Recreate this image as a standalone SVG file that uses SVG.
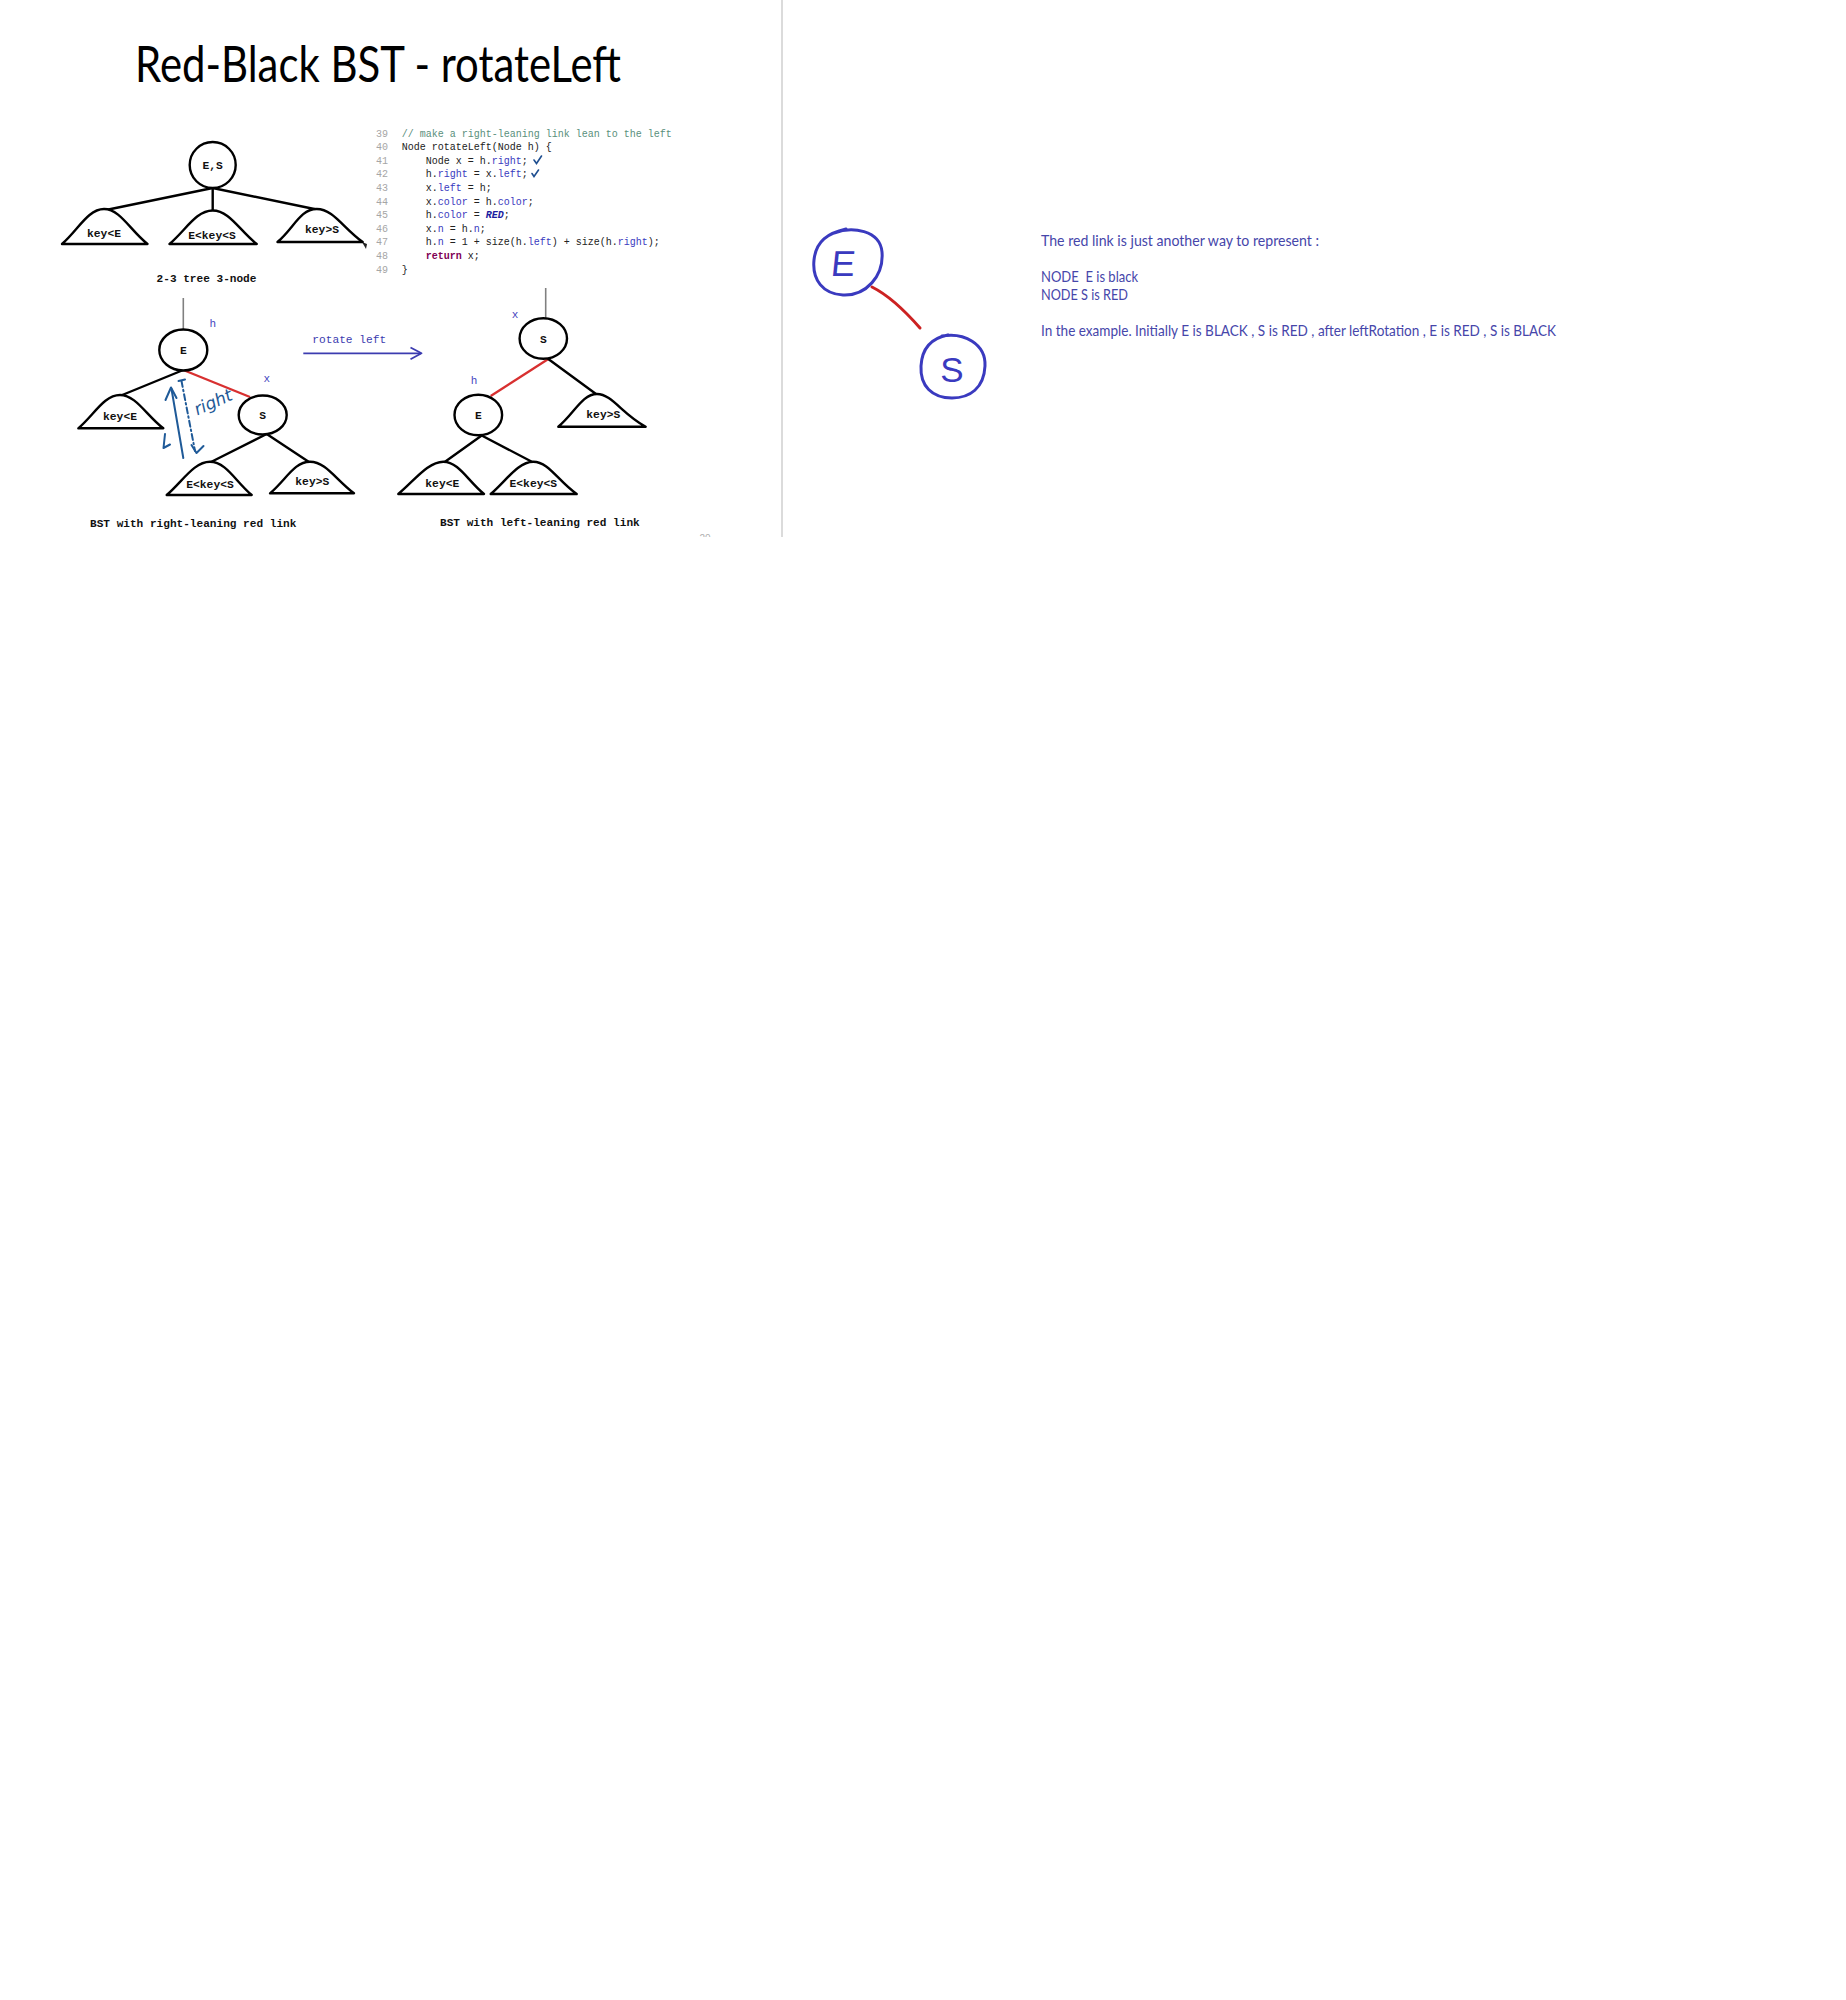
<svg xmlns="http://www.w3.org/2000/svg" width="1846" height="2000" viewBox="0 0 1846 2000">
<style>
.tl{fill:none;stroke:#000;stroke-width:2.4;stroke-linecap:round}
.red{fill:none;stroke:#d83030;stroke-width:2.4}
.gray{fill:none;stroke:#808080;stroke-width:1.6}
.nd{fill:#fff;stroke:#000;stroke-width:2.4}
.sub{fill:#fff;stroke:#000;stroke-width:2.4;stroke-linejoin:round}
.lb{font-family:"Liberation Mono",monospace;font-weight:bold;font-size:11.3px;fill:#111;text-anchor:middle}
.cap{font-family:"Liberation Mono",monospace;font-weight:bold;font-size:11.1px;fill:#111}
.var{font-family:"Liberation Mono",monospace;font-size:11px;fill:#4646c0;text-anchor:middle}
.code{font-family:"Liberation Mono",monospace;font-size:10px;fill:#222}
.ln{font-family:"Liberation Mono",monospace;font-size:10px;fill:#a6a6a6;text-anchor:end}
.fld{fill:#3a3ac0}
.cm{fill:#5a8f7c}
.kw{fill:#7f0055;font-weight:bold}
.cst{fill:#1c1ca0;font-weight:bold;font-style:italic}
.note{font-family:Lato,"Liberation Sans",sans-serif;font-size:15px;fill:#4646aa}
.ink{fill:none;stroke:#1f5a98;stroke-width:2;stroke-linecap:round;stroke-linejoin:round}
.pen{fill:none;stroke:#3a3abf;stroke-width:3;stroke-linecap:round;stroke-linejoin:round}
</style>
<defs>
<clipPath id="slideclip"><rect x="0" y="0" width="782" height="537"/></clipPath>
</defs>
<rect x="0" y="0" width="1846" height="2000" fill="#fff"/>
<line x1="782" y1="0" x2="782" y2="537" stroke="#cfcfcf" stroke-width="1.5"/>
<text x="378" y="82" font-family="Lato,'Liberation Sans',sans-serif" font-size="50" fill="#000" text-anchor="middle" textLength="486" lengthAdjust="spacingAndGlyphs">Red-Black BST - rotateLeft</text>

<!-- code listing -->
<g id="code">
<text class="ln" x="388" y="136.5">39</text>
<text class="ln" x="388" y="150.1">40</text>
<text class="ln" x="388" y="163.7">41</text>
<text class="ln" x="388" y="177.3">42</text>
<text class="ln" x="388" y="190.9">43</text>
<text class="ln" x="388" y="204.5">44</text>
<text class="ln" x="388" y="218.1">45</text>
<text class="ln" x="388" y="231.7">46</text>
<text class="ln" x="388" y="245.3">47</text>
<text class="ln" x="388" y="258.9">48</text>
<text class="ln" x="388" y="272.5">49</text>
<text class="code cm" x="401.7" y="136.5">// make a right-leaning link lean to the left</text>
<text class="code" x="401.7" y="150.1">Node rotateLeft(Node h) {</text>
<text class="code" x="425.7" y="163.7">Node x = h.<tspan class="fld">right</tspan>;</text>
<text class="code" x="425.7" y="177.3">h.<tspan class="fld">right</tspan> = x.<tspan class="fld">left</tspan>;</text>
<text class="code" x="425.7" y="190.9">x.<tspan class="fld">left</tspan> = h;</text>
<text class="code" x="425.7" y="204.5">x.<tspan class="fld">color</tspan> = h.<tspan class="fld">color</tspan>;</text>
<text class="code" x="425.7" y="218.1">h.<tspan class="fld">color</tspan> = <tspan class="cst">RED</tspan>;</text>
<text class="code" x="425.7" y="231.7">x.<tspan class="fld">n</tspan> = h.<tspan class="fld">n</tspan>;</text>
<text class="code" x="425.7" y="245.3">h.<tspan class="fld">n</tspan> = 1 + size(h.<tspan class="fld">left</tspan>) + size(h.<tspan class="fld">right</tspan>);</text>
<text class="code" x="425.7" y="258.9"><tspan class="kw">return</tspan> x;</text>
<text class="code" x="401.7" y="272.5">}</text>
<path d="M534,160 L536.5,163.5 L541.5,156" fill="none" stroke="#1f4f90" stroke-width="1.6" stroke-linecap="round"/>
<path d="M532,173.5 L534,176.5 L538.5,170" fill="none" stroke="#1f4f90" stroke-width="1.6" stroke-linecap="round"/>
<path d="M362,242 L366,249 L367,244 Z" fill="#222"/>
</g>

<g id="connectors">
<line class="tl" x1="212.7" y1="188" x2="106" y2="210"/>
<line class="tl" x1="212.7" y1="188" x2="212.7" y2="211"/>
<line class="tl" x1="212.7" y1="188" x2="316.7" y2="209.5"/>
<line class="gray" x1="183.3" y1="298" x2="183.3" y2="330"/>
<line class="tl" x1="183.3" y1="370" x2="121" y2="395.5"/>
<line class="red" x1="183.3" y1="370" x2="250" y2="397"/>
<line class="tl" x1="266.7" y1="434" x2="211" y2="462"/>
<line class="tl" x1="266.7" y1="434" x2="309" y2="462"/>
<line class="gray" x1="545.7" y1="288" x2="545.7" y2="319"/>
<line class="red" x1="548.3" y1="359" x2="490.7" y2="396"/>
<line class="tl" x1="548.3" y1="359" x2="596.7" y2="394.5"/>
<line class="tl" x1="481.7" y1="435.5" x2="444" y2="462.5"/>
<line class="tl" x1="481.7" y1="435.5" x2="533.3" y2="462.5"/>
<g id="rotate-arrow">
<line x1="303.3" y1="353.3" x2="421" y2="353.3" stroke="#3c3cb0" stroke-width="1.8"/>
<path d="M410.5,347.5 L421.5,353.3 L410.5,359.3" fill="none" stroke="#3c3cb0" stroke-width="1.8" stroke-linejoin="round"/>
</g>
</g>
<text x="312.3" y="342.7" font-family="'Liberation Mono',monospace" font-size="11.2" fill="#3c3cb0">rotate left</text>

<!-- 2-3 tree 3-node -->
<g id="node-ES">
<circle class="nd" cx="212.7" cy="165" r="23"/>
<text class="lb" x="212.7" y="169">E,S</text>
</g>
<g id="tri-keyltE-1">
<path class="sub" d="M62,244 C78,230 88,209 104,209 C120,209 130,230 147.5,244 Z"/>
<text class="lb" x="104" y="236.5">key&lt;E</text>
</g>
<g id="tri-mid-1">
<path class="sub" d="M169.5,244 C186,230 196,210.5 212.7,210.5 C229.4,210.5 239,230 256.7,244 Z"/>
<text class="lb" x="212" y="238.5">E&lt;key&lt;S</text>
</g>
<g id="tri-keygtS-1">
<path class="sub" d="M277.5,242 C294,228 300,209 316.7,209 C333.4,209 343,228 362.7,242 Z"/>
<text class="lb" x="322" y="233">key&gt;S</text>
</g>
<text class="cap" x="206.5" y="281.5" text-anchor="middle">2-3 tree 3-node</text>

<!-- BST with right-leaning red link -->
<g id="node-E-1">
<ellipse class="nd" cx="183.3" cy="350" rx="24" ry="20.5"/>
<text class="lb" x="183.3" y="354">E</text>
</g>
<text class="var" x="212.7" y="327">h</text>
<text class="var" x="266.7" y="382">x</text>
<g id="node-S-1">
<ellipse class="nd" cx="262.7" cy="415" rx="24" ry="19.5"/>
<text class="lb" x="262.7" y="419">S</text>
</g>
<g id="tri-keyltE-2">
<path class="sub" d="M78.3,428.3 C94,415 104,395 120,395 C136,395 146,415 163.3,428.3 Z"/>
<text class="lb" x="120" y="420">key&lt;E</text>
</g>
<g id="tri-mid-2">
<path class="sub" d="M166.7,495 C182,482 194,461.7 210,461.7 C226,461.7 236,482 251.7,495 Z"/>
<text class="lb" x="210" y="487.5">E&lt;key&lt;S</text>
</g>
<g id="tri-keygtS-2">
<path class="sub" d="M270,493.3 C286,480 294,461.7 310,461.7 C326,461.7 336,480 354,493.3 Z"/>
<text class="lb" x="312.3" y="484.5">key&gt;S</text>
</g>
<text class="cap" x="90" y="526.5">BST with right-leaning red link</text>

<!-- hand annotations -->
<g id="annotation">
<path class="ink" d="M183.3,458 L171.5,389"/>
<path class="ink" d="M165.5,400 L171,387.5 L176.5,398"/>
<path class="ink" d="M165,434 L163.5,448 L170,444.5"/>
<path class="ink" d="M181.5,381 L195,451" stroke-dasharray="6,3,1.5,3"/>
<path class="ink" d="M178.5,381 L185,379.5"/>
<path class="ink" d="M191.5,445 L196.5,453 L203.5,446"/>
<text x="213" y="408" font-family="'DejaVu Sans',sans-serif" font-style="italic" font-size="17" fill="#1f5a98" text-anchor="middle" transform="rotate(-24 213 402)">right</text>
</g>

<!-- BST with left-leaning red link -->
<text class="var" x="515" y="318">x</text>
<g id="node-S-2">
<ellipse class="nd" cx="543.3" cy="338.5" rx="23.7" ry="20.3"/>
<text class="lb" x="543.3" y="342.5">S</text>
</g>
<text class="var" x="474" y="384">h</text>
<g id="node-E-2">
<ellipse class="nd" cx="478.3" cy="415" rx="23.8" ry="20.3"/>
<text class="lb" x="478.3" y="419">E</text>
</g>
<g id="tri-keygtS-3">
<path class="sub" d="M558.3,426.7 C574,414 582,394 597,394 C612,394 622,414 645.7,426.7 Z"/>
<text class="lb" x="603.3" y="418">key&gt;S</text>
</g>
<g id="tri-keyltE-3">
<path class="sub" d="M398.3,494 C414,481 428,461.7 443.3,461.7 C458.6,461.7 468,481 484,494 Z"/>
<text class="lb" x="442.3" y="486.5">key&lt;E</text>
</g>
<g id="tri-mid-3">
<path class="sub" d="M490.7,494 C506,481 518,461.7 533.3,461.7 C548.6,461.7 558,481 576.7,494 Z"/>
<text class="lb" x="533.3" y="486.5">E&lt;key&lt;S</text>
</g>
<text class="cap" x="440" y="525.5">BST with left-leaning red link</text>
<g clip-path="url(#slideclip)">
<text x="705" y="542" font-family="'Liberation Sans',sans-serif" font-size="10" fill="#b0b0b0" text-anchor="middle">20</text>
</g>

<!-- right side sketch -->
<g id="sketch-E">
<path class="pen" d="M834,233 C852,226 880,230 882,252 C884,276 866,296 843,295 C823,294 812,280 814,260 C816,241 828,233 846,229"/>
<text x="843" y="276.5" font-family="'Liberation Sans',sans-serif" font-size="36" fill="#3a3abf" text-anchor="middle" transform="skewX(-6) translate(28 0)">E</text>
</g>
<path id="sketch-link" d="M872,287 C890,296 906,312 920,328" fill="none" stroke="#cc2222" stroke-width="3" stroke-linecap="round"/>
<g id="sketch-S">
<path class="pen" d="M942,336 C964,332 986,344 985,366 C984,388 970,398 952,398 C932,398 920,386 921,366 C922,348 932,338 948,335"/>
<text x="952" y="382" font-family="'Liberation Sans',sans-serif" font-size="35" fill="#3a3abf" text-anchor="middle">S</text>
</g>
<g id="notes">
<text class="note" x="1041" y="246" textLength="278" lengthAdjust="spacingAndGlyphs">The red link is just another way to represent :</text>
<text class="note" x="1041" y="282" textLength="97" lengthAdjust="spacingAndGlyphs" xml:space="preserve">NODE  E is black</text>
<text class="note" x="1041" y="300" textLength="87" lengthAdjust="spacingAndGlyphs">NODE S is RED</text>
<text class="note" x="1041" y="336" textLength="515" lengthAdjust="spacingAndGlyphs">In the example. Initially E is BLACK , S is RED , after leftRotation , E is RED , S is BLACK</text>
</g>
</svg>
